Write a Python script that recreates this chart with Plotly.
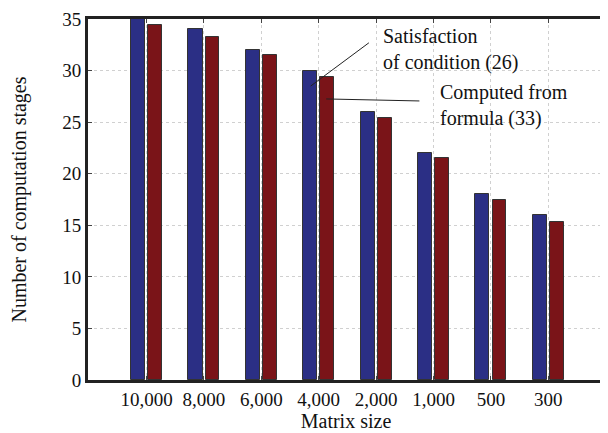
import plotly.graph_objects as go

categories = ["10,000", "8,000", "6,000", "4,000", "2,000", "1,000", "500", "300"]
satisfaction = [35, 34, 32, 30, 26, 22, 18, 16]
computed = [34.4, 33.3, 31.5, 29.4, 25.4, 21.5, 17.5, 15.3]
y_ticks = [0, 5, 10, 15, 20, 25, 30, 35]

xi = list(range(len(categories)))
FONT = "Liberation Serif, Times New Roman, serif"

fig = go.Figure()
fig.add_trace(go.Bar(x=xi, y=satisfaction, width=0.245, offset=-0.27,
                     marker=dict(color="#2B2F85", line=dict(color="#333333", width=1)),
                     name="Satisfaction of condition (26)"))
fig.add_trace(go.Bar(x=xi, y=computed, width=0.24, offset=0.03,
                     marker=dict(color="#7A1418", line=dict(color="#333333", width=1)),
                     name="Computed from formula (33)"))

fig.add_annotation(x=2.86, y=28.5, ax=3.9, ay=32.8, axref="x", ayref="y",
                   showarrow=True, arrowhead=0, arrowwidth=1, arrowcolor="#222", text="")
fig.add_annotation(x=3.13, y=27.25, ax=4.78, ay=27.05, axref="x", ayref="y",
                   showarrow=True, arrowhead=0, arrowwidth=1, arrowcolor="#222", text="")
fig.add_annotation(x=4.08, y=32.0, xanchor="left", yanchor="middle", showarrow=False,
                   align="left", text="Satisfaction<br>of condition (26)",
                   font=dict(family=FONT, size=20, color="#111"))
fig.add_annotation(x=5.08, y=26.6, xanchor="left", yanchor="middle", showarrow=False,
                   align="left", text="Computed from<br>formula (33)",
                   font=dict(family=FONT, size=20, color="#111"))

fig.update_layout(
    width=600, height=425,
    margin=dict(l=80, r=1, t=6, b=53),
    paper_bgcolor="white", plot_bgcolor="white",
    showlegend=False,
    bargap=0,
    font=dict(family=FONT, size=19, color="#111"),
    xaxis=dict(
        range=[-1.02, 7.97], tickmode="array", tickvals=xi, ticktext=categories,
        showline=True, linewidth=3, linecolor="#222", mirror="ticks",
        ticks="inside", ticklen=4, tickcolor="#444",
        showgrid=True, gridcolor="#d0d0d0", griddash="dot", gridwidth=1,
        zeroline=False, ticklabeloverflow="allow",
        title=dict(text="Matrix size", font=dict(family=FONT, size=20), standoff=2),
        tickfont=dict(family=FONT, size=19),
    ),
    yaxis=dict(
        range=[0, 35], tickmode="array", tickvals=y_ticks,
        showline=True, linewidth=3, linecolor="#222", mirror="ticks",
        ticks="inside", ticklen=4, tickcolor="#444",
        showgrid=True, gridcolor="#d0d0d0", griddash="dot", gridwidth=1,
        zeroline=False, ticklabeloverflow="allow",
        title=dict(text="Number of computation stages", font=dict(family=FONT, size=20), standoff=34),
        tickfont=dict(family=FONT, size=19),
    ),
)

fig.write_html("out.html")
